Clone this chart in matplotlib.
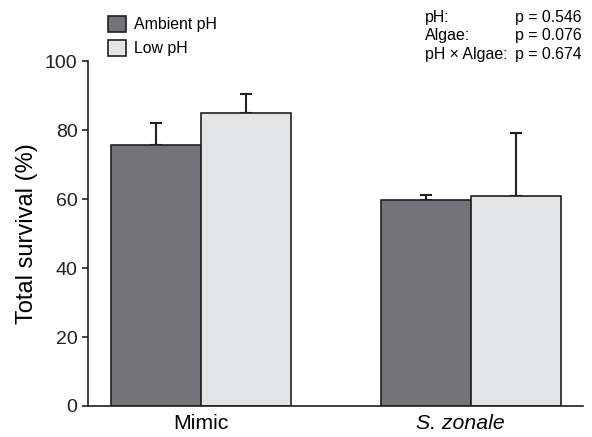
import matplotlib.pyplot as plt
import numpy as np

plt.rcParams['font.family'] = ['Liberation Sans', 'DejaVu Sans']

species = ['Mimic', 'S. zonale']
ambient = [75.6, 59.6]
ambient_err = [6.5, 1.5]
low = [85.0, 60.8]
low_err = [5.4, 18.5]
stats_names = ['pH:', 'Algae:', 'pH \u00d7 Algae:']
stats_p = ['p = 0.546', 'p = 0.076', 'p = 0.674']

fig = plt.figure(figsize=(5.92, 4.37), dpi=100)
ax = fig.add_axes([0.1486, 0.071, 0.8364, 0.789])

x = np.arange(len(species))
w = 0.333
edge = '#231f20'
ax.bar(x - w / 2, ambient, w, color='#75737a', edgecolor=edge, linewidth=1.2,
       label='Ambient pH', zorder=2)
ax.bar(x + w / 2, low, w, color='#e3e4e6', edgecolor=edge, linewidth=1.2,
       label='Low pH', zorder=2)
ax.errorbar(x - w / 2, ambient, yerr=[np.zeros(2), ambient_err], fmt='none',
            ecolor=edge, elinewidth=1.5, capsize=4, capthick=1.5, zorder=1)
ax.errorbar(x + w / 2, low, yerr=[np.zeros(2), low_err], fmt='none',
            ecolor=edge, elinewidth=1.5, capsize=4, capthick=1.5, zorder=1)

ax.set_xlim(-0.419, 1.415)
ax.set_ylim(0, 100)
ax.set_yticks([0, 20, 40, 60, 80, 100])
ax.set_xticks([])
# category labels under the groups (the italic one sits a bit left in the original)
shifts = [0, -8]
for xi, name, dx in zip(x, species, shifts):
    ax.annotate(name, xy=(xi, 0), xycoords=('data', 'axes fraction'),
                xytext=(dx, -6), textcoords='offset points',
                ha='center', va='top', fontsize=15.3,
                style='italic' if name.startswith('S.') else 'normal')
ax.tick_params(axis='y', labelsize=14, length=4, width=1.2, direction='out', colors='#231f20')
ax.set_ylabel('Total survival (%)', fontsize=17, labelpad=5)
for s in ['top', 'right']:
    ax.spines[s].set_visible(False)
for s in ['left', 'bottom']:
    ax.spines[s].set_linewidth(1.2)
    ax.spines[s].set_color('#231f20')

fig.legend(loc='upper left', bbox_to_anchor=(0.172, 0.978), frameon=False,
           fontsize=11.4, handlelength=1.15, handleheight=1.15, handletextpad=0.5,
           labelspacing=0.5, borderaxespad=0)

for i, (n, p) in enumerate(zip(stats_names, stats_p)):
    yy = 0.961 - i * 0.0423
    fig.text(0.718, yy, n, fontsize=11.4, va='center', ha='left')
    fig.text(0.870, yy, p, fontsize=11.4, va='center', ha='left')

fig.savefig('out.png', dpi=100)
